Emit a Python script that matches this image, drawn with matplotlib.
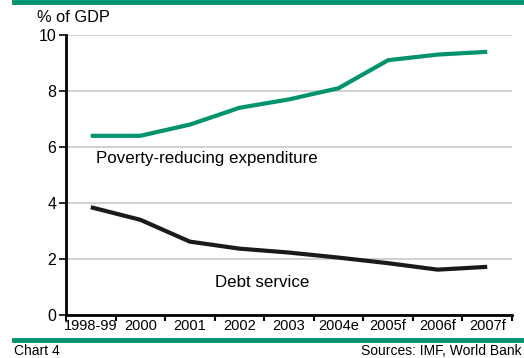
import matplotlib.pyplot as plt
import numpy as np

plt.rcParams['font.family'] = ['Liberation Sans', 'DejaVu Sans']

# data
years = ['1998-99', '2000', '2001', '2002', '2003', '2004e', '2005f', '2006f', '2007f']
poverty_exp = [6.4, 6.4, 6.8, 7.4, 7.7, 8.1, 9.1, 9.3, 9.4]
debt_service = [3.85, 3.4, 2.62, 2.37, 2.23, 2.05, 1.85, 1.62, 1.72]
yticks = [0, 2, 4, 6, 8, 10]

green = '#00936e'

W, H = 524, 358
fig = plt.figure(figsize=(W / 100, H / 100), dpi=100)
ax = fig.add_axes([66 / W, 1 - 315 / H, (512 - 66) / W, (315 - 35) / H])

x = np.arange(len(years))
ax.plot(x, poverty_exp, color=green, lw=3.0, solid_capstyle='butt', zorder=3)
ax.plot(x, debt_service, color='#1a1a1a', lw=3.0, solid_capstyle='butt', zorder=3)

ax.set_xlim(-0.5, len(years) - 0.5)
ax.set_ylim(0, 10)
ax.set_yticks(yticks)
ax.set_yticklabels([str(t) for t in yticks], fontsize=11.5)
ax.yaxis.grid(True, color='#c8c8c8', lw=1.2)
ax.set_axisbelow(True)

# category ticks sit on band boundaries, labels in band centres
ax.set_xticks(np.arange(len(years) + 1) - 0.5)
ax.set_xticklabels([])
ax.set_xticks(x, minor=True)
ax.set_xticklabels(years, minor=True, fontsize=10.5)
ax.tick_params(axis='x', which='minor', length=0, pad=3)
ax.tick_params(axis='x', which='major', length=4, width=1.5, direction='out')
ax.tick_params(axis='y', length=5, width=1.2, pad=2)

for s in ['top', 'right']:
    ax.spines[s].set_visible(False)
ax.spines['left'].set_linewidth(2)
ax.spines['bottom'].set_linewidth(2)

ax.text(0.1, 5.6, 'Poverty-reducing expenditure', fontsize=12.2, va='center', ha='left')
ax.text(2.5, 1.15, 'Debt service', fontsize=12.2, va='center', ha='left')

fig.text(37 / W, 1 - 17 / H, '% of GDP', fontsize=11.8, va='center', ha='left')

# green rules top and bottom
fig.add_artist(plt.Line2D([14 / W, 1], [1 - 2 / H, 1 - 2 / H], color=green, lw=3.5))
fig.add_artist(plt.Line2D([14 / W, 1], [1 - 339.5 / H, 1 - 339.5 / H], color=green, lw=3.5))

fig.text(14 / W, 1 - 344 / H, 'Chart 4', fontsize=10, va='top', ha='left')
fig.text(522 / W, 1 - 344 / H, 'Sources: IMF, World Bank', fontsize=10, va='top', ha='right')

fig.savefig('out.png', dpi=100, facecolor='white')
